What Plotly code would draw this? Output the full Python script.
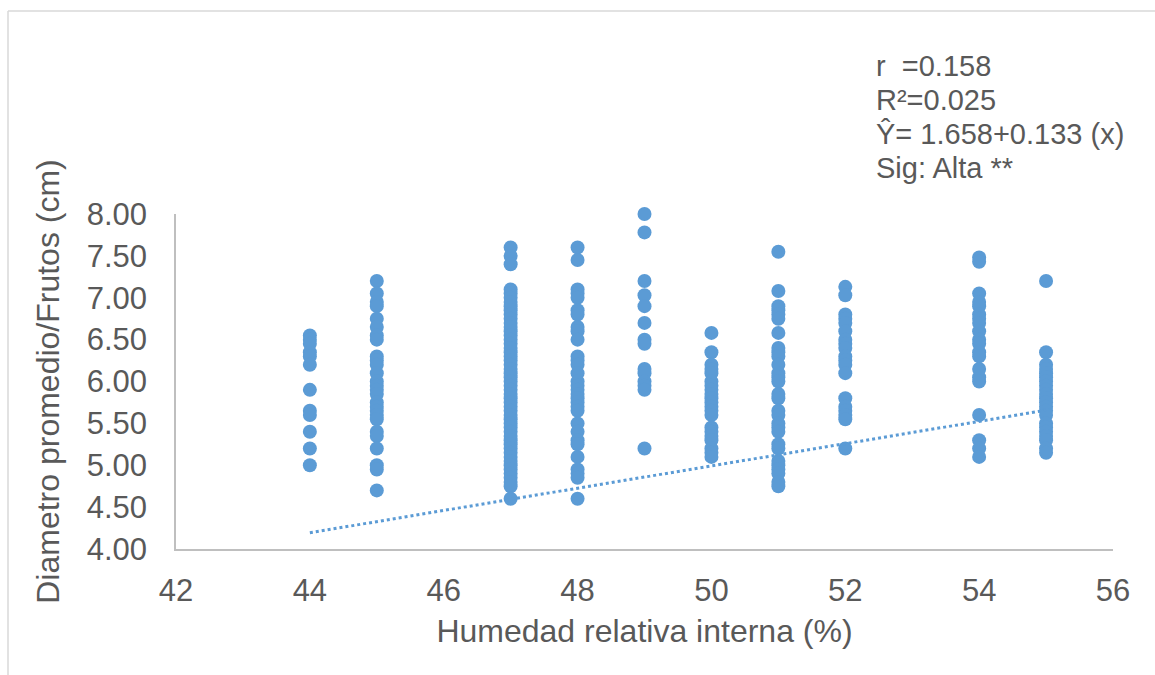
import plotly.graph_objects as go

# Fruit diameter (cm) measured at each internal relative humidity level (%)
humidity_levels = [44, 45, 47, 48, 49, 50, 51, 52, 54, 55]

d44 = [6.55, 6.5, 6.45, 6.35, 6.3, 6.2, 5.9, 5.65, 5.6, 5.4, 5.2, 5.0]
d45 = [7.2, 7.05, 6.95, 6.9, 6.75, 6.65, 6.55, 6.5, 6.3, 6.25, 6.2, 6.1, 6.0,
       5.95, 5.9, 5.85, 5.75, 5.7, 5.65, 5.6, 5.55, 5.4, 5.35, 5.2, 5.0, 4.95, 4.7]
d47 = [7.6, 7.5, 7.4, 7.1, 7.05, 7.0, 6.95, 6.9, 6.85, 6.8, 6.75, 6.7, 6.65, 6.6,
       6.55, 6.5, 6.45, 6.4, 6.35, 6.3, 6.25, 6.2, 6.15, 6.1, 6.05, 6.0, 5.95,
       5.9, 5.85, 5.8, 5.75, 5.7, 5.65, 5.6, 5.55, 5.5, 5.45, 5.4, 5.35, 5.3,
       5.25, 5.2, 5.15, 5.1, 5.05, 5.0, 4.95, 4.9, 4.85, 4.8, 4.75, 4.6]
d48 = [7.6, 7.45, 7.1, 7.05, 7.0, 6.85, 6.8, 6.65, 6.6, 6.5, 6.3, 6.25, 6.2, 6.1,
       6.0, 5.95, 5.9, 5.85, 5.8, 5.75, 5.7, 5.65, 5.5, 5.4, 5.3, 5.25, 5.1,
       4.95, 4.9, 4.85, 4.6]
d49 = [8.0, 7.78, 7.2, 7.03, 6.9, 6.7, 6.5, 6.45, 6.15, 6.1, 6.0, 5.95, 5.9, 5.2]
d50 = [6.58, 6.35, 6.2, 6.15, 6.1, 6.0, 5.95, 5.9, 5.85, 5.8, 5.75, 5.7, 5.65,
       5.6, 5.45, 5.4, 5.35, 5.3, 5.2, 5.15, 5.1]
d51 = [7.55, 7.08, 6.9, 6.85, 6.8, 6.75, 6.58, 6.4, 6.35, 6.3, 6.2, 6.1, 6.05,
       6.0, 5.85, 5.8, 5.65, 5.6, 5.5, 5.45, 5.4, 5.25, 5.2, 5.05, 5.0, 4.95,
       4.9, 4.8, 4.75]
d52 = [7.13, 7.03, 6.8, 6.75, 6.7, 6.6, 6.5, 6.45, 6.4, 6.3, 6.25, 6.2, 6.1,
       5.8, 5.7, 5.65, 5.6, 5.55, 5.2]
d54 = [7.48, 7.43, 7.05, 6.95, 6.9, 6.8, 6.75, 6.7, 6.6, 6.5, 6.45, 6.35, 6.3,
       6.15, 6.05, 6.0, 5.6, 5.3, 5.2, 5.1]
d55 = [7.2, 6.35, 6.2, 6.15, 6.1, 6.05, 6.0, 5.95, 5.9, 5.85, 5.8, 5.75, 5.7,
       5.65, 5.6, 5.5, 5.45, 5.4, 5.35, 5.3, 5.2, 5.15]

diameters = [d44, d45, d47, d48, d49, d50, d51, d52, d54, d55]

# Linear trend (intercept, slope) over the measured humidity span
trend_intercept = -1.658
trend_slope = 0.133
trend_x = [44, 55]

stats_lines = ["r  =0.158", "R²=0.025", "Ŷ= 1.658+0.133 (x)", "Sig: Alta **"]

x_ticks = [42, 44, 46, 48, 50, 52, 54, 56]
y_ticks = [4.0, 4.5, 5.0, 5.5, 6.0, 6.5, 7.0, 7.5, 8.0]

xs, ys = [], []
for h, vals in zip(humidity_levels, diameters):
    xs.extend([h] * len(vals))
    ys.extend(vals)

blue = "#5B9BD5"
grey_text = "#595959"
font_family = "Liberation Sans, Arial, sans-serif"
fs = 32

fig = go.Figure()
fig.add_trace(go.Scatter(
    x=xs, y=ys, mode="markers",
    marker=dict(color=blue, size=14, line=dict(width=0)),
    cliponaxis=False, showlegend=False,
))
fig.add_trace(go.Scatter(
    x=trend_x, y=[trend_intercept + trend_slope * v for v in trend_x],
    mode="lines", line=dict(color=blue, width=3, dash="dot"),
    showlegend=False,
))

# pixel helpers for the plot box
L, R, T, B = 176, 42, 214, 126
W, H = 1155, 675
pw, ph = W - L - R, H - T - B


def px_x(p):
    return (p - L) / pw


def px_y(p):
    return (H - B - p) / ph


shapes = [
    dict(type="line", xref="paper", yref="paper", x0=px_x(8), x1=px_x(8),
         y0=px_y(11), y1=px_y(H + 5), line=dict(color="#D9D9D9", width=1.5)),
    dict(type="line", xref="paper", yref="paper", x0=px_x(8), x1=px_x(W + 5),
         y0=px_y(11), y1=px_y(11), line=dict(color="#D9D9D9", width=1.5)),
]

line_centers = [66, 100, 134, 168]
annotations = [
    dict(text=t, xref="paper", yref="paper", x=px_x(874), y=px_y(c),
         xanchor="left", yanchor="middle", showarrow=False, align="left",
         font=dict(family=font_family, size=29, color=grey_text))
    for t, c in zip(stats_lines, line_centers)
]

fig.update_layout(
    width=W, height=H,
    margin=dict(l=L, r=R, t=T, b=B, pad=0),
    paper_bgcolor="white", plot_bgcolor="white",
    font=dict(family=font_family, color=grey_text),
    shapes=shapes, annotations=annotations,
    xaxis=dict(
        range=[42, 56], tickvals=x_ticks, ticktext=[str(v) for v in x_ticks],
        showgrid=False, zeroline=False, showline=True, linecolor="#BFBFBF",
        linewidth=1.5, ticks="", tickfont=dict(size=fs - 1, color=grey_text),
        ticklabelstandoff=13,
        title=dict(text="Humedad relativa interna (%)",
                   font=dict(size=fs, color=grey_text), standoff=13),
    ),
    yaxis=dict(
        range=[4, 8], tickvals=y_ticks, ticktext=[f"{v:.2f}" for v in y_ticks],
        showgrid=False, zeroline=False, showline=True, linecolor="#BFBFBF",
        linewidth=1.5, ticks="", tickfont=dict(size=fs - 1, color=grey_text),
        ticklabelstandoff=21,
        title=dict(text="Diametro promedio/Frutos (cm)",
                   font=dict(size=fs, color=grey_text), standoff=18),
    ),
)

fig.write_html("out.html")
